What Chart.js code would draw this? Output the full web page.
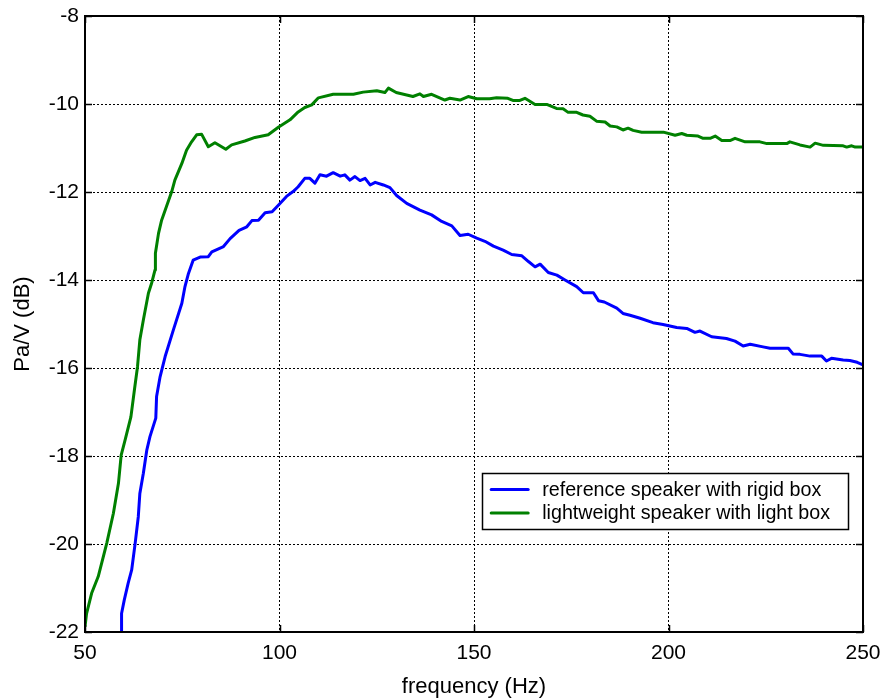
<!DOCTYPE html>
<html><head><meta charset="utf-8">
<script src="https://cdn.jsdelivr.net/npm/chart.js@4.4.0/dist/chart.umd.min.js"></script>
<style>html,body{margin:0;padding:0;background:#fff;} canvas{display:block;}</style>
</head><body>
<canvas id="c" width="885" height="700"></canvas>
<script>
// ---- data ----
const seriesLabels = ['reference speaker with rigid box', 'lightweight speaker with light box'];
const xTickValues = [50, 100, 150, 200, 250];
const yTickValues = [-22, -20, -18, -16, -14, -12, -10, -8];

const refFreq = [59.3, 59.4, 60.1, 61.1, 62.0, 62.9, 63.7, 64.1, 65.0, 65.9, 66.7, 68.2, 68.4, 69.3, 70.6, 72.7, 74.9, 75.7, 76.6, 77.8,
  79.6, 81.7, 82.6, 85.6, 87.3, 89.6, 91.6, 92.9, 94.6, 96.3, 98.1, 99.7, 101.8, 103.5, 104.8, 106.5, 107.8, 109.1, 110.4, 112.1,
  113.8, 115.6, 116.8, 118.1, 119.4, 120.7, 122.0, 123.3, 124.6, 126.7, 128.4, 130.1, 132.7, 136.1, 139.1, 141.7, 144.3, 146.4, 148.5, 150.7,
  152.8, 155.0, 157.5, 159.7, 162.3, 164.0, 165.7, 167.0, 169.1, 171.3, 173.4, 176.4, 178.1, 180.7, 182.0, 183.5, 186.7, 188.3, 190.1, 192.7,
  196.0, 198.6, 202.1, 204.7, 206.8, 208.1, 211.1, 214.9, 217.1, 219.2, 221.0, 224.3, 226.1, 230.8, 232.0, 233.8, 236.4, 239.4, 240.6, 241.9,
  244.9, 246.6, 248.5, 250];
const refVals = [-22.0, -21.58, -21.27, -20.89, -20.59, -19.98, -19.38, -18.85, -18.39, -17.86, -17.56, -17.14, -16.65, -16.2, -15.74, -15.14, -14.53, -14.15, -13.85, -13.55,
  -13.48, -13.47, -13.36, -13.24, -13.06, -12.87, -12.79, -12.65, -12.64, -12.47, -12.45, -12.3, -12.1, -11.99, -11.88, -11.69, -11.69, -11.80, -11.61, -11.64,
  -11.56, -11.64, -11.61, -11.73, -11.65, -11.74, -11.69, -11.84, -11.78, -11.84, -11.90, -12.08, -12.26, -12.41, -12.52, -12.67, -12.77, -12.99, -12.96, -13.05,
  -13.12, -13.23, -13.32, -13.42, -13.45, -13.58, -13.70, -13.64, -13.83, -13.89, -14.00, -14.15, -14.29, -14.29, -14.47, -14.50, -14.64, -14.76, -14.80, -14.87,
  -14.97, -15.01, -15.08, -15.10, -15.19, -15.16, -15.29, -15.33, -15.39, -15.50, -15.46, -15.52, -15.55, -15.55, -15.68, -15.69, -15.73, -15.73, -15.84, -15.78,
  -15.82, -15.83, -15.87, -15.93];

const lightFreq = [50, 50.4, 51.7, 53.4, 55.6, 57.3, 58.6, 59.3, 60.3, 61.8, 62.7, 63.5, 64.1, 65.0, 66.3, 67.1, 68.0, 68.1, 68.9, 69.7,
  72.3, 73.1, 74.9, 76.1, 77.4, 78.7, 80.0, 81.7, 83.4, 86.2, 87.7, 91.1, 93.7, 97.1, 99.7, 102.7, 104.8, 106.5, 108.3, 110.0,
  113.8, 119.0, 121.5, 125.0, 127.1, 128.0, 130.0, 134.3, 136.1, 137.0, 139.1, 142.5, 143.8, 146.4, 148.5, 150.7, 154.0, 155.8, 158.7, 160.0,
  161.8, 163.1, 165.7, 168.7, 171.2, 172.9, 174.2, 176.4, 178.0, 179.8, 181.5, 183.7, 185.0, 186.7, 188.3, 189.6, 190.9, 193.1, 198.7, 201.7,
  203.4, 204.7, 207.6, 208.9, 210.7, 212.0, 213.7, 215.8, 217.1, 219.7, 223.5, 225.3, 230.4, 231.2, 233.8, 236.4, 237.7, 239.8, 244.9, 245.8,
  247.1, 248.0, 250];
const lightVals = [-21.88, -21.58, -21.12, -20.74, -19.98, -19.3, -18.62, -17.98, -17.64, -17.11, -16.5, -15.97, -15.36, -14.91, -14.3, -14.08, -13.77, -13.39, -12.94, -12.64,
  -11.99, -11.73, -11.35, -11.05, -10.86, -10.7, -10.69, -10.97, -10.88, -11.03, -10.93, -10.84, -10.76, -10.7, -10.53, -10.36, -10.18, -10.08, -10.02, -9.86,
  -9.78, -9.78, -9.73, -9.70, -9.74, -9.64, -9.74, -9.83, -9.77, -9.83, -9.78, -9.91, -9.87, -9.91, -9.83, -9.88, -9.88, -9.86, -9.87, -9.92,
  -9.92, -9.87, -10.01, -10.01, -10.10, -10.11, -10.19, -10.19, -10.25, -10.28, -10.39, -10.41, -10.50, -10.52, -10.59, -10.55, -10.60, -10.64, -10.64, -10.71,
  -10.67, -10.71, -10.73, -10.78, -10.78, -10.73, -10.83, -10.83, -10.78, -10.86, -10.86, -10.90, -10.90, -10.86, -10.93, -10.98, -10.89, -10.94, -10.95, -10.98,
  -10.95, -10.98, -10.98];

const seriesColors = ['#0000ff', '#008000'];
// ---------------------------------------------

const FONT = '"Liberation Sans", Arial, Helvetica, sans-serif';
const toPoints = (xs, ys) => xs.map((v, i) => ({ x: v, y: ys[i] }));

const frameAndLegend = {
  id: 'frameAndLegend',
  afterDatasetsDraw(chart) {
    const { ctx, chartArea: a, scales } = chart;
    const xs = scales.x, ys = scales.y;
    ctx.save();
    // frame
    ctx.strokeStyle = '#000';
    ctx.lineWidth = 2;
    ctx.strokeRect(a.left, a.top, a.right - a.left, a.bottom - a.top);
    // inward tick marks (MATLAB style)
    const tl = 7;
    ctx.lineWidth = 1.5;
    ctx.beginPath();
    xs.ticks.forEach(t => {
      const p = Math.round(xs.getPixelForValue(t.value)) + 0.5;
      ctx.moveTo(p, a.bottom); ctx.lineTo(p, a.bottom - tl);
      ctx.moveTo(p, a.top); ctx.lineTo(p, a.top + tl);
    });
    ys.ticks.forEach(t => {
      const p = Math.round(ys.getPixelForValue(t.value)) + 0.5;
      ctx.moveTo(a.left, p); ctx.lineTo(a.left + tl, p);
      ctx.moveTo(a.right, p); ctx.lineTo(a.right - tl, p);
    });
    ctx.stroke();

    // legend box inside the plot
    ctx.font = '19.7px ' + FONT;
    const ds = chart.data.datasets;
    let tw = 0;
    ds.forEach(d => { tw = Math.max(tw, ctx.measureText(d.label).width); });
    const boxW = 9 + 37 + 14 + tw + 18;
    const boxH = 56;
    const right = a.right - 15;
    const left = right - boxW;
    const top = a.top + 457;
    ctx.fillStyle = '#fff';
    ctx.fillRect(left, top, boxW, boxH);
    ctx.lineWidth = 1.5;
    ctx.strokeStyle = '#000';
    ctx.strokeRect(Math.round(left) + 0.5, Math.round(top) + 0.5, Math.round(boxW), boxH);
    ds.forEach((d, i) => {
      const yy = top + 16.5 + i * 23.5;
      ctx.strokeStyle = d.borderColor;
      ctx.lineWidth = 3;
      ctx.lineCap = 'round';
      ctx.beginPath();
      ctx.moveTo(left + 9, yy); ctx.lineTo(left + 46, yy);
      ctx.stroke();
      ctx.fillStyle = '#000';
      ctx.textBaseline = 'middle';
      ctx.textAlign = 'left';
      ctx.fillText(d.label, left + 60, yy + 1);
    });
    ctx.restore();
  }
};

new Chart(document.getElementById('c'), {
  type: 'line',
  data: {
    datasets: [
      { label: seriesLabels[0], data: toPoints(refFreq, refVals), borderColor: seriesColors[0], backgroundColor: seriesColors[0],
        borderWidth: 3, pointRadius: 0, tension: 0, fill: false, borderJoinStyle: 'round' },
      { label: seriesLabels[1], data: toPoints(lightFreq, lightVals), borderColor: seriesColors[1], backgroundColor: seriesColors[1],
        borderWidth: 3, pointRadius: 0, tension: 0, fill: false, borderJoinStyle: 'round' }
    ]
  },
  options: {
    responsive: false,
    animation: false,
    devicePixelRatio: 1,
    layout: { padding: { top: 16, right: 22, left: 0, bottom: 0 } },
    plugins: { legend: { display: false }, tooltip: { enabled: false } },
    scales: {
      x: {
        type: 'linear', min: 50, max: 250,
        afterBuildTicks: s => { s.ticks = xTickValues.map(v => ({ value: v })); },
        afterFit: s => { s.height = 68; s.paddingLeft = 0; s.paddingRight = 0; },
        grid: { color: '#000', lineWidth: 1, drawTicks: false },
        border: { display: false, dash: [2, 2] },
        ticks: { color: '#000', padding: 9, maxRotation: 0, font: { family: FONT, size: 21 } },
        title: { display: true, text: 'frequency (Hz)', color: '#000', padding: 0, font: { family: FONT, size: 22 } }
      },
      y: {
        type: 'linear', min: -22, max: -8,
        afterBuildTicks: s => { s.ticks = yTickValues.map(v => ({ value: v })); },
        afterFit: s => { s.width = 85; s.paddingTop = 0; s.paddingBottom = 0; },
        grid: { color: '#000', lineWidth: 1, drawTicks: false },
        border: { display: false, dash: [2, 2] },
        ticks: { color: '#000', padding: 6, font: { family: FONT, size: 21 } },
        title: { display: true, text: 'Pa/V (dB)', color: '#000', padding: { top: 10, bottom: 0 }, font: { family: FONT, size: 22 } }
      }
    }
  },
  plugins: [frameAndLegend]
});
</script>
</body></html>
